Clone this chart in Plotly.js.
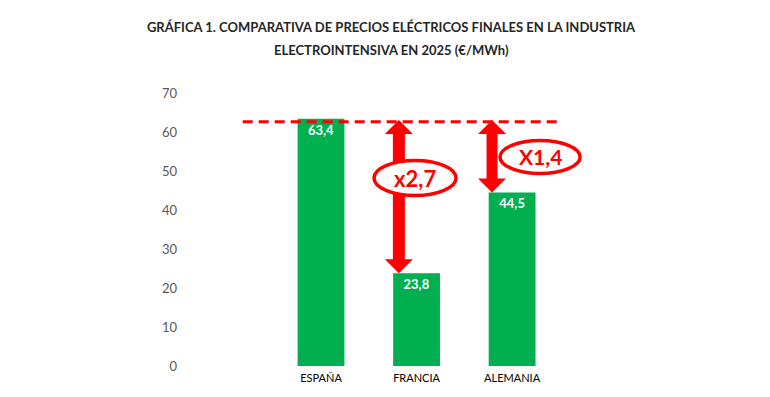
<!DOCTYPE html>
<html>
<head>
<meta charset="utf-8">
<script src="https://cdn.plot.ly/plotly-3.0.1.min.js"></script>
<style>html,body{margin:0;padding:0;background:#fff;}#chart{width:770px;height:397px;}</style>
</head>
<body>
<div id="chart"></div>
<script>
const categories = ["ESPAÑA", "FRANCIA", "ALEMANIA"];
const prices = [63.4, 23.8, 44.5];
const yTicks = [0, 10, 20, 30, 40, 50, 60, 70];
const ratioLabels = ["x2,7", "X1,4"];
const titleLines = ["GRÁFICA 1. COMPARATIVA DE PRECIOS ELÉCTRICOS FINALES EN LA INDUSTRIA",
                    "ELECTROINTENSIVA EN 2025 (€/MWh)"];

const RED = "#FF0000";
const GREEN = "#00B050";
const refLevel = prices[0] - 0.8;   // dashed reference line (España price)
const headH = 14 * 70 / 273;       // arrow head height in data units

function arrowPath(top, bottom, hw, sw) {
  return `M 0 ${top} L ${hw} ${top - headH} L ${sw} ${top - headH} L ${sw} ${bottom + headH} L ${hw} ${bottom + headH} L 0 ${bottom} L ${-hw} ${bottom + headH} L ${-sw} ${bottom + headH} L ${-sw} ${top - headH} L ${-hw} ${top - headH} Z`;
}

const shapes = [
  {type: "line", xref: "x", yref: "y", x0: -0.82, x1: 2.5, y0: refLevel, y1: refLevel,
   line: {color: RED, width: 3, dash: "10px,6px"}, layer: "above"},
  {type: "path", xref: "x", yref: "y", xsizemode: "pixel", xanchor: 1 - 0.185,
   path: arrowPath(refLevel + 0.5, prices[1], 14, 6), fillcolor: RED, line: {width: 0}, layer: "above"},
  {type: "path", xref: "x", yref: "y", xsizemode: "pixel", xanchor: 2 - 0.21,
   path: arrowPath(refLevel + 0.5, prices[2], 14, 5.5), fillcolor: RED, line: {width: 0}, layer: "above"},
  {type: "circle", xref: "x", yref: "y", xsizemode: "pixel", ysizemode: "pixel",
   xanchor: 0.984, yanchor: 48.2, x0: -41, x1: 41, y0: -17.5, y1: 17.5,
   fillcolor: "#fff", line: {color: RED, width: 3.5}, layer: "above"},
  {type: "circle", xref: "x", yref: "y", xsizemode: "pixel", ysizemode: "pixel",
   xanchor: 2.293, yanchor: 53.6, x0: -40, x1: 40, y0: -16.5, y1: 16.5,
   fillcolor: "#fff", line: {color: RED, width: 3.5}, layer: "above"}
];

const annotations = [
  {x: 0.984, y: 48.2, xref: "x", yref: "y", text: "<b>" + ratioLabels[0] + "</b>", showarrow: false,
   font: {family: "Lato, sans-serif", size: 22, color: RED}},
  {x: 2.293, y: 53.6, xref: "x", yref: "y", text: "<b>" + ratioLabels[1] + "</b>", showarrow: false,
   font: {family: "Lato, sans-serif", size: 21, color: RED}},
  {x: 0.5, y: 1.158, xref: "paper", yref: "paper", xanchor: "center", yanchor: "middle",
   text: "<b>" + titleLines[1] + "</b>", showarrow: false,
   font: {family: "Lato, sans-serif", size: 13, color: "#262626"}}
];

const trace = {
  type: "bar", x: categories, y: prices, width: 0.49,
  marker: {color: GREEN},
  texttemplate: "<b>%{y:.1f}</b>", textposition: "inside", insidetextanchor: "end",
  textfont: {family: "Lato, sans-serif", size: 13, color: "#fff"},
  hoverinfo: "none"
};

const layout = {
  width: 770, height: 397,
  margin: {l: 182, r: 170, t: 93, b: 31},
  paper_bgcolor: "#fff", plot_bgcolor: "#fff",
  separators: ",.",
  showlegend: false,
  font: {family: "Lato, sans-serif"},
  title: {text: "<b>" + titleLines[0] + "</b>",
          x: 0.5, xref: "paper", xanchor: "center", y: 1 - 27 / 397, yref: "container", yanchor: "middle",
          font: {family: "Lato, sans-serif", size: 13, color: "#262626"}},
  xaxis: {type: "category", range: [-1.455, 2.92], showgrid: false, zeroline: false, showline: false,
          ticks: "", ticklabelstandoff: 4, tickfont: {family: "Lato, sans-serif", size: 11, color: "#000"}, fixedrange: true},
  yaxis: {range: [0, 70], tickvals: yTicks, showgrid: false, zeroline: false, showline: false,
          ticks: "", ticklabelstandoff: 4, tickfont: {family: "Lato, sans-serif", size: 13, color: "#595959"}, fixedrange: true},
  shapes: shapes,
  annotations: annotations
};

Plotly.newPlot("chart", [trace], layout, {displayModeBar: false, staticPlot: true});
</script>
</body>
</html>
